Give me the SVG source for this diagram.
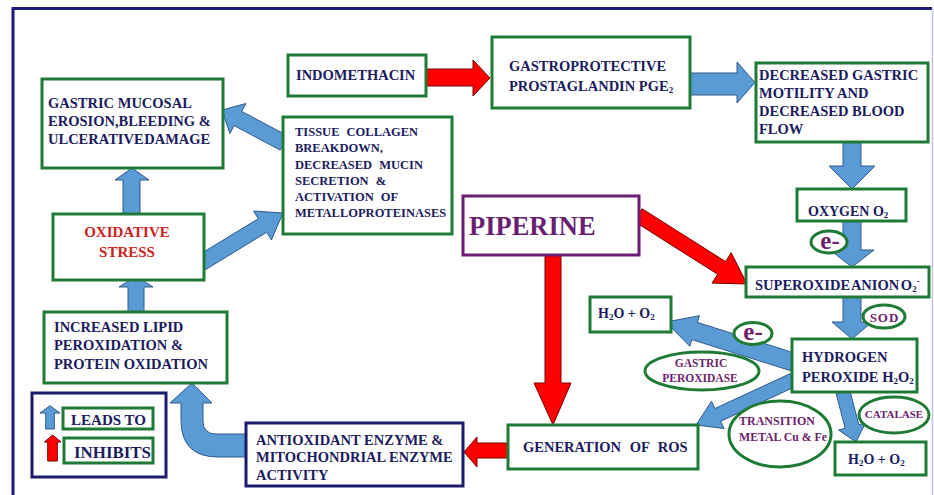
<svg xmlns="http://www.w3.org/2000/svg" width="934" height="495" viewBox="0 0 934 495">
<style>
.box{fill:#fff;stroke:#1f7a36;stroke-width:3}
.nbox{fill:#fff;stroke:#1b1b6b;stroke-width:3}
.pbox{fill:#fff;stroke:#6b1f73;stroke-width:3}
.ell{fill:#fff;stroke:#1f7a36;stroke-width:3}
.t{font-family:"Liberation Serif","Times New Roman",serif;font-weight:bold;font-size:14.5px;fill:#1b1b5e}
.s{font-size:12.5px;word-spacing:4px}
.pt{fill:#6d1f6d;font-size:11.5px}
.e{fill:#6d1f6d;font-size:25px;text-anchor:middle}
.c{text-anchor:middle}
.sub{font-size:9px}
.blue{fill:#5b9bd5;stroke:#2f5a8a;stroke-width:1}
.red{fill:#ff0000;stroke:#7a0000;stroke-width:1}
</style>
<rect width="934" height="495" fill="#fff"/>
<path d="M13,495 V8.5 H932" fill="none" stroke="#1b1b7a" stroke-width="3"/>
<line x1="932.5" y1="8" x2="932.5" y2="495" stroke="#c4c4e4" stroke-width="1.5"/>

<g id="connectors">
  <polygon class="red" points="426,69 473,69 473,60 490,78 473,96 473,86 426,86"/>
  <polygon class="blue" points="690,73 737,73 737,62 755,82.5 737,103 737,95 690,95"/>
  <polygon class="blue" points="843,142 843,166 829,166 852,189 875,166 861,166 861,142"/>
  <polygon class="blue" points="843,221 843,250 830,250 852,267 874,250 861,250 861,221"/>
  <polygon class="blue" points="843,297 843,322 832,322 852,339 872,322 861,322 861,297"/>
  <polygon class="blue" points="287.8,135.9 241.7,111.4 245.9,103.5 222,110 229.9,133.5 234.1,125.6 280.2,150.1"/>
  <polygon class="blue" points="196.8,256.2 258.3,218.7 253.6,211 283,213 271.4,240 266.7,232.3 205.2,269.8"/>
  <polygon class="blue" points="123,216 123,180 115,180 132,168 149,180 140,180 140,216"/>
  <polygon class="blue" points="128,313 128,287 119,287 136,276 153,287 144,287 144,313"/>
  <polygon class="red" points="642,208.7 725.6,261.6 731.2,252.7 747,284 712,283.1 717.6,274.2 634,221.3"/>
  <polygon class="red" points="545,255 545,383 534,383 553,425 571,383 561,383 561,255"/>
  <polygon class="red" points="510,443 477,443 477,437 464,452 477,467 477,458 510,458"/>
  <polygon class="blue" points="795.7,353.4 697.3,322.4 699.4,315.7 666,322 689.8,346.3 691.9,339.6 790.3,370.6"/>
  <polygon class="blue" points="790.1,373.7 714.9,408.5 711.5,401.3 696,425 724.1,428.5 720.7,421.3 795.9,386.3"/>
  <polygon class="blue" points="836.2,393.8 845.2,428.3 838.5,430 856,442 865.5,423 858.8,424.7 849.8,390.2"/>
  <path class="blue" d="M248,434 L216,434 Q203,434 203,421 L203,403 L212,403 L192,383 L170,403 L181,403 L181,420 Q181,457 218,457 L248,457 Z"/>
</g>

<g id="indomethacin"><rect class="box" x="288" y="55" width="138" height="41"/><text class="t" x="296" y="80">INDOMETHACIN</text></g>

<g id="pge2"><rect class="box" x="492" y="37" width="198" height="71"/>
<text class="t" x="509" y="70.5">GASTROPROTECTIVE</text>
<text class="t" x="509" y="90.5">PROSTAGLANDIN PGE<tspan class="sub" dy="2">2</tspan></text></g>

<g id="decreased-motility"><rect class="box" x="756" y="63" width="172" height="79"/>
<text class="t" x="759" y="80">DECREASED GASTRIC</text>
<text class="t" x="759" y="98">MOTILITY AND</text>
<text class="t" x="759" y="116">DECREASED BLOOD</text>
<text class="t" x="759" y="133.5">FLOW</text></g>

<g id="gastric-mucosal"><rect class="box" x="42" y="79" width="181" height="89"/>
<text class="t" x="48" y="108">GASTRIC MUCOSAL</text>
<text class="t" x="48" y="126">EROSION,BLEEDING &amp;</text>
<text class="t" x="48" y="144" style="word-spacing:-3px">ULCERATIVE DAMAGE</text></g>

<g id="tissue-collagen"><rect class="box" x="283" y="117" width="169" height="117"/>
<text class="t s" x="295" y="136">TISSUE COLLAGEN</text>
<text class="t s" x="295" y="152">BREAKDOWN,</text>
<text class="t s" x="295" y="168.5">DECREASED MUCIN</text>
<text class="t s" x="295" y="184.5">SECRETION &amp;</text>
<text class="t s" x="295" y="200.5">ACTIVATION OF</text>
<text class="t s" x="295" y="217">METALLOPROTEINASES</text></g>

<g id="oxidative-stress"><rect class="box" x="53" y="214" width="151" height="66"/>
<text class="t c" x="127" y="237" style="fill:#cc2222;font-size:15px">OXIDATIVE</text>
<text class="t c" x="127" y="257" style="fill:#cc2222;font-size:15px">STRESS</text></g>

<g id="piperine"><rect class="pbox" x="463" y="196" width="176" height="59"/>
<text class="t" x="469" y="235" style="font-size:26.5px;fill:#6b1f73">PIPERINE</text></g>

<g id="oxygen"><rect class="box" x="797" y="189" width="109" height="32"/>
<text class="t" x="808" y="216" style="font-size:14px">OXYGEN O<tspan class="sub" dy="2">2</tspan></text></g>

<g id="e1"><ellipse class="ell" cx="829" cy="242" rx="18" ry="11"/><text class="t e" x="830" y="249">e-</text></g>

<g id="superoxide"><rect class="box" x="746" y="267" width="183" height="30"/>
<text class="t" x="755" y="290" style="word-spacing:-2px">SUPEROXIDE ANION O<tspan class="sub" dy="2">2</tspan><tspan class="sub" dy="-8">-</tspan></text></g>

<g id="sod"><ellipse class="ell" cx="884" cy="316.5" rx="21" ry="11.5"/><text class="t c" x="884.5" y="322" style="font-size:13px;letter-spacing:1px;fill:#6d1f6d">SOD</text></g>

<g id="h2o-o2-top"><rect class="box" x="590" y="297" width="81" height="35"/>
<text class="t" x="598" y="318" style="font-size:14px">H<tspan class="sub" dy="2">2</tspan><tspan dy="-2">O +  O</tspan><tspan class="sub" dy="2">2</tspan></text></g>

<g id="e2"><ellipse class="ell" cx="753" cy="333.5" rx="19" ry="11"/><text class="t e" x="753" y="340">e-</text></g>

<g id="hydrogen-peroxide"><rect class="box" x="792" y="339" width="125" height="53"/>
<text class="t" x="802" y="362">HYDROGEN</text>
<text class="t" x="802" y="382">PEROXIDE H<tspan class="sub" dy="2">2</tspan><tspan dy="-2">O</tspan><tspan class="sub" dy="2">2</tspan></text></g>

<g id="gastric-peroxidase"><ellipse class="ell" cx="702" cy="371" rx="57" ry="19"/>
<text class="t pt c" x="701" y="367">GASTRIC</text>
<text class="t pt c" x="700" y="382">PEROXIDASE</text></g>

<g id="transition-metal"><ellipse class="ell" cx="780" cy="434" rx="51" ry="33"/>
<text class="t pt" x="739" y="425" style="font-size:12px">TRANSITION</text>
<text class="t pt" x="739" y="441" style="font-size:11.8px">METAL Cu &amp; Fe</text></g>

<g id="catalase"><ellipse class="ell" cx="894" cy="415" rx="35" ry="18"/>
<text class="t pt c" x="894" y="418" style="font-size:11px">CATALASE</text></g>

<g id="generation-ros"><rect class="box" x="508" y="425" width="190" height="44"/>
<text class="t" x="523" y="452" style="word-spacing:5px">GENERATION OF ROS</text></g>

<g id="h2o-o2-bottom"><rect class="box" x="835" y="442" width="91" height="33"/>
<text class="t" x="848" y="464" style="font-size:14px">H<tspan class="sub" dy="2">2</tspan><tspan dy="-2">O +  O</tspan><tspan class="sub" dy="2">2</tspan></text></g>

<g id="antioxidant"><rect class="nbox" x="246" y="423" width="217" height="63"/>
<text class="t" x="256" y="445">ANTIOXIDANT ENZYME &amp;</text>
<text class="t" x="256" y="462">MITOCHONDRIAL ENZYME</text>
<text class="t" x="256" y="480">ACTIVITY</text></g>

<g id="lipid-peroxidation"><rect class="box" x="44" y="312" width="183" height="71"/>
<text class="t" x="54" y="332">INCREASED LIPID</text>
<text class="t" x="54" y="350">PEROXIDATION &amp;</text>
<text class="t" x="54" y="369">PROTEIN OXIDATION</text></g>

<g id="legend"><rect class="nbox" x="32" y="393" width="134" height="84"/>
<polygon class="blue" points="45.7,429 45.7,413 40,413 50,405.7 60,413 54.3,413 54.3,429"/>
<polygon class="red" points="47.7,461 47.7,442 44.3,442 52.7,435 61,442 57.3,442 57.3,461"/>
<rect class="box" x="63" y="408" width="90" height="21"/>
<text class="t" x="71" y="425" style="font-size:15.5px" textLength="75" lengthAdjust="spacingAndGlyphs">LEADS TO</text>
<rect class="box" x="64" y="438" width="89" height="25"/>
<text class="t" x="74" y="458" style="font-size:17px" textLength="77" lengthAdjust="spacingAndGlyphs">INHIBITS</text></g>
</svg>
